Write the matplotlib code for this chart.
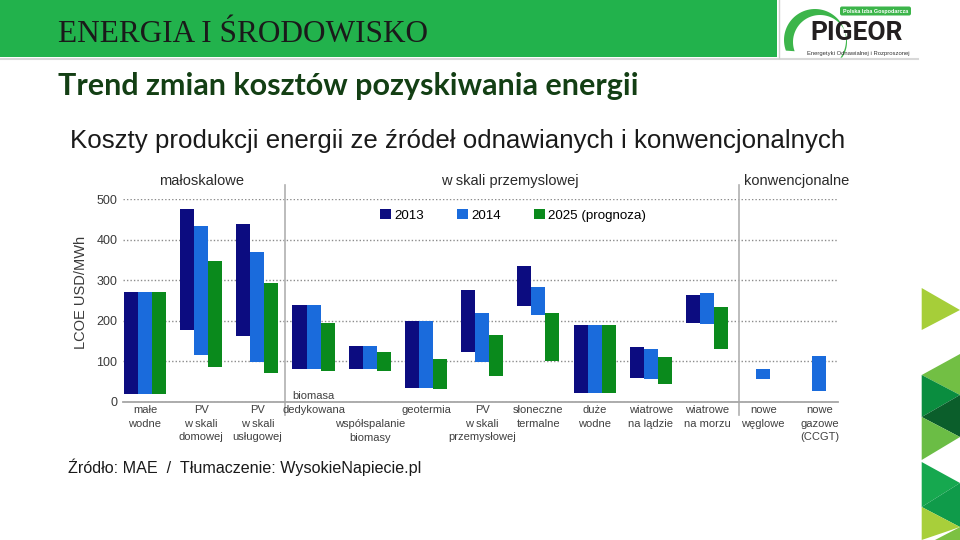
import numpy as np
import matplotlib
matplotlib.use('Agg')
import matplotlib.pyplot as plt
from matplotlib.patches import Rectangle, Polygon, FancyBboxPatch

plt.rcParams['font.family'] = ['Liberation Sans', 'DejaVu Sans']

# ---- data (LCOE USD/MWh, floating bars: low..high) ----
categories = ['małe\nwodne', 'PV\nw skali\ndomowej', 'PV\nw skali\nusługowej',
              'biomasa\ndedykowana', 'współspalanie\nbiomasy', 'geotermia',
              'PV\nw skali\nprzemysłowej', 'słoneczne\ntermalne', 'duże\nwodne',
              'wiatrowe\nna lądzie', 'wiatrowe\nna morzu', 'nowe\nwęglowe',
              'nowe\ngazowe\n(CCGT)']
label_shift = [0, 0, 0, -1, 1, 0, 0, 0, 0, 0, 0, 0, 0]   # label line offsets

series = ['2013', '2014', '2025 (prognoza)']
colors = ['#0c0c80', '#1a6bdc', '#0a8a1c']

nan = np.nan
low_2013 = [20, 177, 162, 80, 80, 35, 123, 236, 21, 58, 195, nan, nan]
high_2013 = [270, 477, 440, 239, 138, 199, 275, 336, 189, 134, 264, nan, nan]
low_2014 = [20, 115, 97, 80, 80, 35, 97, 213, 21, 57, 192, 57, 26]
high_2014 = [270, 435, 369, 239, 138, 199, 218, 283, 189, 131, 269, 81, 113]
low_2025 = [20, 85, 72, 75, 75, 31, 63, 100, 21, 43, 130, nan, nan]
high_2025 = [270, 347, 292, 195, 123, 106, 165, 218, 189, 111, 233, nan, nan]

groups = ['małoskalowe', 'w skali przemyslowej', 'konwencjonalne']
group_sep = [2.5, 10.57]

lows = [low_2013, low_2014, low_2025]
highs = [high_2013, high_2014, high_2025]

W, H = 960, 540
fig = plt.figure(figsize=(9.6, 5.4), dpi=100)

# background / slide decorations in pixel coordinates
bg = fig.add_axes([0, 0, 1, 1], zorder=0)
bg.set_xlim(0, W)
bg.set_ylim(H, 0)
bg.axis('off')

bg.add_patch(Rectangle((0, 0), 777, 57, color='#22b24c', lw=0))
bg.plot([0, 918], [58.5, 58.5], color='#d8d8d8', lw=1.5)
bg.plot([778.5, 778.5], [0, 58], color='#d0d0d0', lw=1)
bg.text(58, 42, 'ENERGIA I ŚRODOWISKO', family=['Liberation Serif', 'DejaVu Serif'],
        fontsize=22.5, color='#1a1a1a', va='baseline')
bg.text(58, 95, 'Trend zmian kosztów pozyskiwania energii', family=['Lato', 'DejaVu Sans'],
        fontsize=22, fontweight='bold', color='#133f14', va='baseline')

# logo
t = np.linspace(np.radians(200), np.radians(-35), 60)
outer = np.c_[815 + 31 * np.cos(t), 40 - 31 * np.sin(t)]
inner = np.c_[820 + 27 * np.cos(t[::-1]), 42 - 27 * np.sin(t[::-1])]
bg.add_patch(Polygon(np.vstack([outer, inner]), closed=True, color='#3cb54a', lw=0))
bg.add_patch(FancyBboxPatch((840, 6.5), 71, 9, boxstyle='round,pad=0,rounding_size=2',
                            color='#3cb54a', lw=0))
bg.text(875.5, 11.3, 'Polska Izba Gospodarcza', fontsize=3.9, color='white',
        fontweight='bold', ha='center', va='center')
bg.text(857, 40, 'PIGEOR', family=['Roboto', 'DejaVu Sans'], fontsize=19,
        fontweight='bold', color='#231f20', ha='center', va='baseline')
bg.text(858, 53, 'Energetyki Odnawialnej i Rozproszonej', fontsize=4.2,
        color='#333333', ha='center', va='center')

# right-hand triangles
tri = [
    ([(921.7, 288), (960, 310), (921.7, 330)], '#a6ce39'),
    ([(921.7, 375), (960, 354), (960, 395)], '#72bf44'),
    ([(921.7, 375), (960, 395), (921.7, 417)], '#0a8d3f'),
    ([(921.7, 417), (960, 395), (960, 437)], '#0b5e2b'),
    ([(921.7, 417), (960, 437), (921.7, 460)], '#6bbd45'),
    ([(921.7, 462), (960, 483), (921.7, 507)], '#16a84f'),
    ([(921.7, 507), (960, 483), (960, 527)], '#0f9b4a'),
    ([(921.7, 507), (960, 527), (921.7, 540)], '#a8cf3a'),
    ([(960, 527), (960, 540), (935, 540)], '#7cc142'),
]
for pts, c in tri:
    bg.add_patch(Polygon(pts, closed=True, color=c, lw=0))

bg.text(70, 141, 'Koszty produkcji energii ze źródeł odnawianych i konwencjonalnych',
        fontsize=18.6, color='#1a1a1a', va='center')
bg.text(68, 467, 'Źródło: MAE  /  Tłumaczenie: WysokieNapiecie.pl',
        fontsize=11.6, color='#1a1a1a', va='center')

# ---- chart ----
ax = fig.add_axes([123 / W, 1 - 401.7 / H, 715 / W, 202.4 / H], zorder=1)
ax.patch.set_alpha(0)
x = np.arange(len(categories))
bw = 0.25
for k in range(3):
    lo = np.array(lows[k], dtype=float)
    hi = np.array(highs[k], dtype=float)
    ax.bar(x + (k - 1) * bw, hi - lo, bottom=lo, width=bw, color=colors[k],
           label=series[k], zorder=3)

ax.set_xlim(-0.39, 12.33)
ax.set_ylim(0, 500)
ax.set_yticks(range(0, 501, 100))
ax.set_xticks([])
ax.yaxis.grid(True, linestyle=(0, (1, 1.5)), color='#8c8c8c', lw=1)
ax.set_axisbelow(True)
for s in ['left', 'right', 'top']:
    ax.spines[s].set_visible(False)
ax.spines['bottom'].set_color('#a6a6a6')
ax.spines['bottom'].set_linewidth(1.3)
ax.tick_params(axis='y', length=0, pad=4, labelsize=9, labelcolor='#3a3a3a')
ax.set_ylabel('LCOE USD/MWh', fontsize=10.5, color='#3a3a3a')
ax.yaxis.set_label_coords(-0.049, 0.542)

for xs in group_sep:
    ax.axvline(xs, ymin=-0.066, ymax=1.07, color='#b0b0b0', lw=1.2, clip_on=False)

for i, lab in enumerate(categories):
    ax.annotate(lab, xy=(i, 0), xycoords=ax.get_xaxis_transform(),
                xytext=(0, -2.5 - 10 * label_shift[i]), textcoords='offset points',
                ha='center', va='top', fontsize=8, color='#404040', linespacing=1.45)

group_x = [1.0, 6.5, 11.6]
for gx, g in zip(group_x, groups):
    ax.text(gx, 1.09, g, transform=ax.get_xaxis_transform(), ha='center',
            va='center', fontsize=10.5, color='#2a2a2a')

ax.legend(loc='upper left', bbox_to_anchor=((380 - 123) / 715, (401.7 - 209) / 202.4),
          ncol=3, frameon=False, fontsize=9.6, handlelength=0.8, handleheight=0.8,
          handletextpad=0.25, columnspacing=2.5, borderaxespad=0, borderpad=0)

fig.savefig('out.png', dpi=100)
